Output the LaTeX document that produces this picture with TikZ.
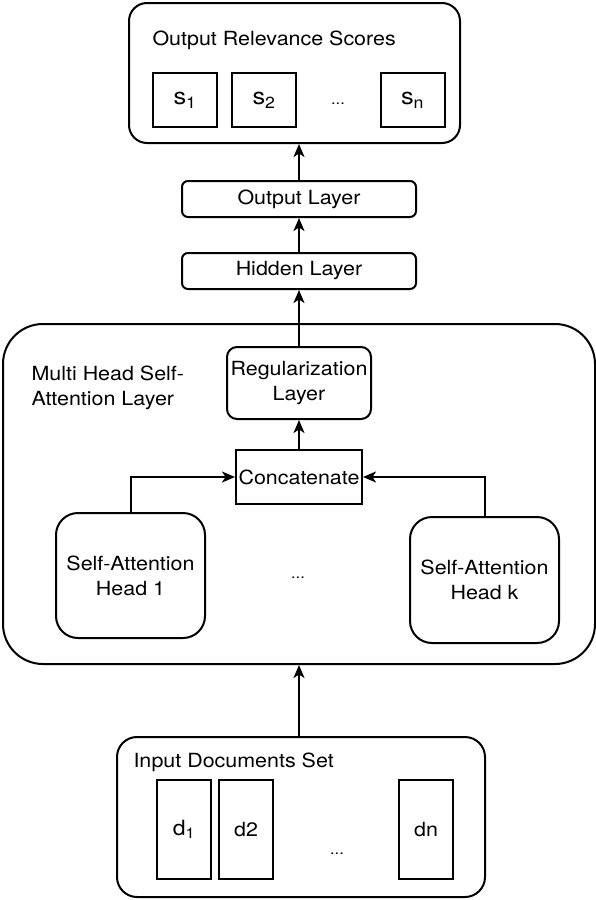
\documentclass[tikz,border=0pt]{standalone}
\usepackage{fontspec}
\setmainfont{TeX Gyre Heros}[FakeStretch=1.1]
\usepackage{tikz}
\usetikzlibrary{calc,arrows.meta}

\begin{document}
\begin{tikzpicture}[x=1pt,y=-1pt,
    font=\fontsize{19.5}{25}\selectfont,
    box/.style={draw,line width=2pt,inner sep=0pt,align=center},
    rbox/.style={box,rounded corners=#1},
    arr/.style={line width=2pt,-{Stealth[length=13pt,width=11pt,inset=3.5pt]}},
    dots/.style={font=\fontsize{15}{17}\selectfont}]
            \useasboundingbox (0,0) rectangle (596,900);
            % output block
            \node[rbox=18pt, minimum width=331pt, minimum height=140pt] (scores) at (294.5,73) {};
            \node[anchor=west] (scorestitle) at (149,40) {Output Relevance Scores};
            \node[box, minimum width=64pt, minimum height=54pt, font=\fontsize{23}{25}\selectfont] (s1) at (185,100) {s\textsubscript{1}};
            \node[box, minimum width=64pt, minimum height=54pt, font=\fontsize{23}{25}\selectfont] (s2) at (264,100) {s\textsubscript{2}};
            \node[box, minimum width=64pt, minimum height=54pt, font=\fontsize{23}{25}\selectfont] (sn) at (412.5,100) {s\textsubscript{n}};
            \node[dots] (sdots) at (338,104) {...};
            % dense layers
            \node[rbox=6pt, minimum width=234pt, minimum height=36pt] (outl) at (299,199) {Output Layer};
            \node[rbox=6pt, minimum width=234pt, minimum height=36pt] (hid) at (299,271) {Hidden Layer};
            % multi head block
            \node[rbox=40pt, minimum width=592pt, minimum height=340pt] (multi) at (299,494) {};
            \node[anchor=west, align=left] (multititle) at (28,388) {Multi Head Self-\\Attention Layer};
            \node[rbox=10pt, minimum width=144pt, minimum height=72pt] (reg) at (299,383) {Regularization\\Layer};
            \node[box, minimum width=126pt, minimum height=54pt] (concat) at (299,477) {Concatenate};
            \node[rbox=22pt, minimum width=149pt, minimum height=125pt] (head1) at (130.5,575.5) {Self-Attention\\Head 1};
            \node[rbox=22pt, minimum width=149pt, minimum height=126pt] (headk) at (484.5,580) {Self-Attention\\Head k};
            \node[dots] (hdots) at (298,578) {...};
            % input block
            \node[rbox=20pt, minimum width=368pt, minimum height=160pt] (input) at (301,817) {};
            \node[anchor=west] (inputtitle) at (130,762) {Input Documents Set};
            \node[box, minimum width=54pt, minimum height=99pt, font=\fontsize{21}{25}\selectfont] (d1) at (184,829.5) {d\textsubscript{1}};
            \node[box, minimum width=54pt, minimum height=99pt] (d2) at (246,829.5) {d2};
            \node[box, minimum width=54pt, minimum height=99pt] (dn) at (426,829.5) {dn};
            \node[dots] (ddots) at (337,854) {...};
            % arrows
            \draw[arr] (input.north -| multi.south) -- (multi.south);
            \draw[arr] (head1.north) |- (concat.west);
            \draw[arr] (headk.north) |- (concat.east);
            \draw[arr] (concat.north) -- (reg.south);
            \draw[arr] (reg.north) -- (hid.south);
            \draw[arr] (hid.north) -- (outl.north |- outl.south);
            \draw[arr] (outl.north) -- (outl.north |- scores.south);
        \end{tikzpicture}
\end{document}
